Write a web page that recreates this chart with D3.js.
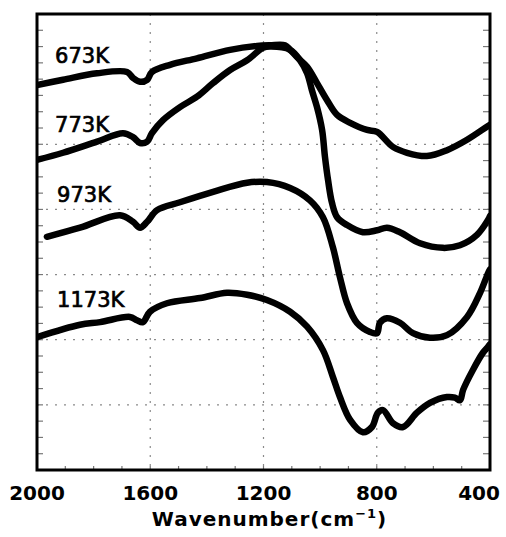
<!DOCTYPE html>
<html><head><meta charset="utf-8">
<script src="https://cdn.jsdelivr.net/npm/d3@7"></script>
<style>html,body{margin:0;padding:0;background:#fff;} svg{display:block;}</style>
</head><body>
<svg id="chart" width="506" height="537"></svg>
<script>
// ---- data ----
const seriesNames = ["673K", "773K", "973K", "1173K"];

const wn673  = [2000,1908,1788,1682,1661,1636,1611,1594,1530,1435,1318,1223,1177,1124,1106,1082,1046,1011,976,940,894,834,799,743,693,623,552,481,411,400];
const val673 = [5.91,5.99,6.09,6.11,6.02,5.96,5.99,6.11,6.22,6.32,6.45,6.51,6.52,6.52,6.45,6.34,6.19,5.94,5.68,5.45,5.33,5.22,5.19,4.96,4.87,4.82,4.91,5.07,5.27,5.30];

const wn773  = [2000,1908,1788,1696,1661,1636,1611,1594,1555,1495,1435,1378,1318,1258,1202,1177,1106,1071,1046,1029,1011,993,983,972,958,940,905,849,799,764,718,647,566,506,446,407,400];
const val773 = [4.76,4.87,5.04,5.17,5.11,5.02,5.04,5.17,5.37,5.57,5.73,5.94,6.14,6.29,6.48,6.50,6.45,6.29,6.09,5.83,5.57,5.22,4.81,4.45,4.10,3.88,3.76,3.65,3.68,3.72,3.65,3.48,3.41,3.45,3.61,3.84,3.90];

const wn973  = [1965,1848,1707,1661,1636,1611,1576,1495,1378,1258,1188,1106,1036,990,955,930,905,870,824,799,789,764,718,672,612,552,481,435,407,400];
const val973 = [3.58,3.72,3.91,3.81,3.72,3.81,3.99,4.11,4.27,4.41,4.42,4.33,4.14,3.88,3.42,2.96,2.56,2.26,2.12,2.10,2.26,2.33,2.26,2.10,2.03,2.07,2.35,2.72,3.02,3.08];

const wn1173  = [2000,1848,1777,1672,1647,1626,1601,1541,1424,1329,1258,1188,1106,1046,990,955,930,894,849,817,796,778,743,707,658,612,552,524,506,495,460,425,407,400];
const val1173 = [2.04,2.23,2.27,2.35,2.30,2.27,2.43,2.56,2.64,2.72,2.69,2.61,2.43,2.20,1.84,1.43,1.12,0.77,0.58,0.66,0.88,0.92,0.72,0.66,0.88,1.03,1.12,1.11,1.07,1.23,1.54,1.80,1.89,1.93];

const xTicks = [2000, 1600, 1200, 800, 400];
const xTickLabels = ["2000", "1600", "1200", "800", "400"];
const xGridValues = [1600, 1200, 800];
const yGridValues = [1, 2, 3, 4, 5];
const labelWavenumber = [1936, 1936, 1929, 1929];
const labelValue = [6.25, 5.19, 4.11, 2.50];

// ---- layout ----
const W = 506, H = 537;
const margin = {left: 37, right: 16, top: 14, bottom: 67};
const svg = d3.select("#chart");
svg.append("rect").attr("width", W).attr("height", H).attr("fill", "#fff");

const x = d3.scaleLinear().domain([2000, 400]).range([margin.left, W - margin.right]);
const y = d3.scaleLinear().domain([0, 7]).range([H - margin.bottom, margin.top]);

const series = [
  {name: seriesNames[0], wn: wn673, v: val673},
  {name: seriesNames[1], wn: wn773, v: val773},
  {name: seriesNames[2], wn: wn973, v: val973},
  {name: seriesNames[3], wn: wn1173, v: val1173}
];

// clip
svg.append("clipPath").attr("id", "plotclip").append("rect")
  .attr("x", x(2000)).attr("y", y(7)).attr("width", x(400) - x(2000)).attr("height", y(0) - y(7));

// grid
const grid = svg.append("g").attr("stroke", "#8a8a8a").attr("stroke-width", 1.2).attr("stroke-dasharray", "2,7");
grid.selectAll("line.v").data(xGridValues).join("line")
  .attr("x1", d => x(d)).attr("x2", d => x(d)).attr("y1", y(7)).attr("y2", y(0));
grid.selectAll("line.h").data(yGridValues).join("line")
  .attr("x1", x(2000)).attr("x2", x(400)).attr("y1", d => y(d)).attr("y2", d => y(d));

// minor ticks
const minorY = d3.range(0.25, 7, 0.25);
const minorX = d3.range(1900, 400, -100);
const mt = svg.append("g").attr("stroke", "#777").attr("stroke-width", 1.2);
mt.selectAll("line.l").data(minorY).join("line")
  .attr("x1", x(2000)).attr("x2", x(2000) + 6).attr("y1", d => y(d)).attr("y2", d => y(d));
mt.selectAll("line.r").data(minorY).join("line")
  .attr("x1", x(400) - 7).attr("x2", x(400)).attr("y1", d => y(d)).attr("y2", d => y(d));
mt.selectAll("line.b").data(minorX).join("line")
  .attr("x1", d => x(d)).attr("x2", d => x(d)).attr("y1", y(0)).attr("y2", y(0) - 4);

// curves
const line = d3.line().curve(d3.curveCatmullRom.alpha(0.5))
  .x(d => x(d[0])).y(d => y(d[1]));
svg.append("g").attr("clip-path", "url(#plotclip)")
  .selectAll("path").data(series).join("path")
  .attr("d", s => line(s.wn.map((w, i) => [w, s.v[i]])))
  .attr("fill", "none").attr("stroke", "#000").attr("stroke-width", 6.5)
  .attr("stroke-linecap", "round").attr("stroke-linejoin", "round");

// frame
svg.append("rect").attr("x", x(2000)).attr("y", y(7))
  .attr("width", x(400) - x(2000)).attr("height", y(0) - y(7))
  .attr("fill", "none").attr("stroke", "#000").attr("stroke-width", 3);

// curve labels
svg.append("g").selectAll("text").data(series).join("text")
  .attr("x", (s, i) => x(labelWavenumber[i])).attr("y", (s, i) => y(labelValue[i]))
  .attr("font-family", "DejaVu Sans").attr("font-size", 21).attr("fill", "#000")
  .attr("stroke", "#000").attr("stroke-width", 0.7)
  .text(s => s.name);

// x tick labels
svg.append("g").selectAll("text").data(xTicks).join("text")
  .attr("x", d => Math.min(x(d), W - 27)).attr("y", 500)
  .attr("text-anchor", "middle")
  .attr("font-family", "DejaVu Sans").attr("font-weight", "bold").attr("font-size", 20).attr("fill", "#000")
  .text((d, i) => xTickLabels[i]);

// axis title
const title = svg.append("text").attr("x", (x(2000) + x(400)) / 2 + 6).attr("y", 526)
  .attr("text-anchor", "middle").attr("font-family", "DejaVu Sans").attr("font-weight", "bold")
  .attr("font-size", 20).attr("letter-spacing", 1).attr("fill", "#000");
title.append("tspan").text("Wavenumber(cm");
title.append("tspan").attr("font-size", 13).attr("dy", -8).text("−1");
title.append("tspan").attr("dy", 8).text(")");
</script>
</body></html>
